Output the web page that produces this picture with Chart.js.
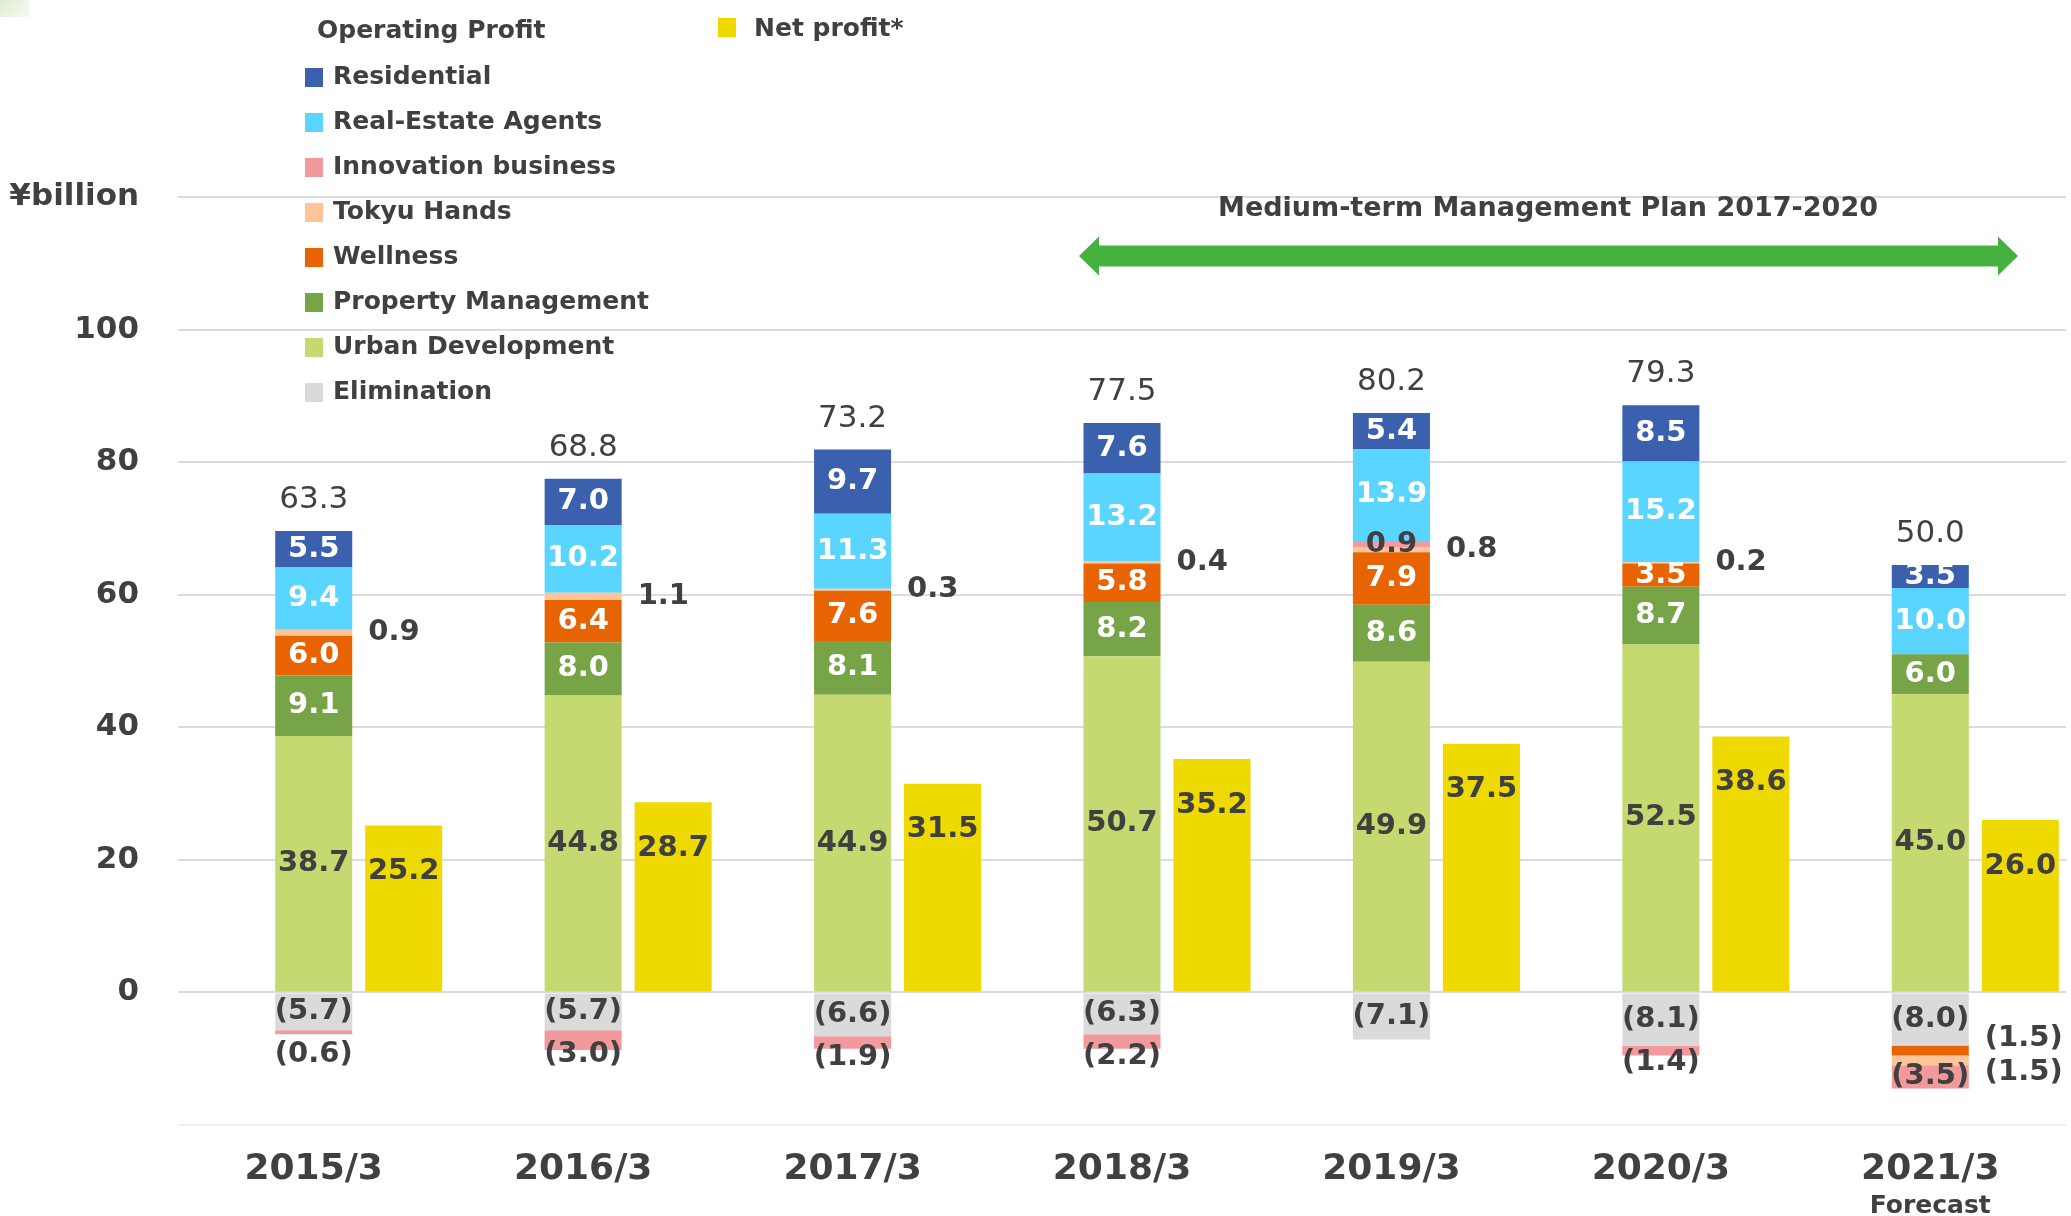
<!DOCTYPE html>
<html>
<head>
<meta charset="utf-8">
<script src="https://cdn.jsdelivr.net/npm/chart.js@4.4.1/dist/chart.umd.min.js"></script>
<style>
  html, body { margin: 0; padding: 0; background: #fff; overflow: hidden; }
  body { width: 2071px; height: 1216px; position: relative; font-family: 'DejaVu Sans', Verdana, sans-serif; color: #404040; }
  #wrap { position: absolute; left: 0; top: 0; width: 2066px; height: 1216px; overflow: hidden; }
  #corner { position: absolute; left: 0; top: 0; width: 29px; height: 17px; background: linear-gradient(135deg, #dcefd2, #f4faf0); }
  .lg-box { position: absolute; width: 18px; height: 19px; }
  .lg-text { position: absolute; font-size: 25px; font-weight: bold; line-height: 1; white-space: nowrap; color: #404040; }
  #plan { left: 1548px; top: 193px; transform: translateX(-50%); font-size: 27px; }
</style>
</head>
<body>
<div id="wrap"><canvas id="chart" width="2110" height="1216"></canvas></div>
<div id="corner"></div>
<div id="legend"></div>
<div id="plan" class="lg-text">Medium-term Management Plan 2017-2020</div>
<script>
// data (¥billion)
const categories = ['2015/3', '2016/3', '2017/3', '2018/3', '2019/3', '2020/3', '2021/3'];
const residential  = [5.5, 7.0, 9.7, 7.6, 5.4, 8.5, 3.5];
const realEstate   = [9.4, 10.2, 11.3, 13.2, 13.9, 15.2, 10.0];
const innovation   = [-0.6, -3.0, -1.9, -2.2, 0.9, -1.4, -3.5];
const tokyuHands   = [0.9, 1.1, 0.3, 0.4, 0.8, 0.2, -1.5];
const wellness     = [6.0, 6.4, 7.6, 5.8, 7.9, 3.5, -1.5];
const propertyMgmt = [9.1, 8.0, 8.1, 8.2, 8.6, 8.7, 6.0];
const urbanDev     = [38.7, 44.8, 44.9, 50.7, 49.9, 52.5, 45.0];
const elimination  = [-5.7, -5.7, -6.6, -6.3, -7.1, -8.1, -8.0];
const netProfit    = [25.2, 28.7, 31.5, 35.2, 37.5, 38.6, 26.0];
const totals       = [63.3, 68.8, 73.2, 77.5, 80.2, 79.3, 50.0];
const yTickValues  = [-20, 0, 20, 40, 60, 80, 100, 120];
const yTickLabels  = ['', '0', '20', '40', '60', '80', '100', '¥billion'];

const DARK = '#404040';
const FONT = '"DejaVu Sans", Verdana, sans-serif';
const whiteSeries = ['Residential', 'Real-Estate Agents', 'Wellness', 'Property Management'];

function bar(label, data, color, stack) {
  return {
    label: label, data: data, backgroundColor: color, stack: stack,
    borderWidth: 0, categoryPercentage: 0.668, barPercentage: 0.856
  };
}

// Elimination first so it sits right under zero in the negative stack
const datasets = [
  bar('Elimination', elimination, '#dbdadb', 'op'),
  bar('Urban Development', urbanDev, '#c4d96f', 'op'),
  bar('Property Management', propertyMgmt, '#76a447', 'op'),
  bar('Wellness', wellness, '#e86403', 'op'),
  bar('Tokyu Hands', tokyuHands, '#ffc497', 'op'),
  bar('Innovation business', innovation, '#f2999b', 'op'),
  bar('Real-Estate Agents', realEstate, '#5ad5ff', 'op'),
  bar('Residential', residential, '#3a60ae', 'op'),
  bar('Net profit*', netProfit, '#eed900', 'net')
];

function fmt(v) {
  return v < 0 ? '(' + Math.abs(v).toFixed(1) + ')' : v.toFixed(1);
}

const labelPlugin = {
  id: 'barLabels',
  afterDatasetsDraw(chart) {
    const ctx = chart.ctx;
    ctx.save();
    ctx.textBaseline = 'middle';
    let lastX = 0;
    for (let i = 0; i < categories.length; i++) {
      const inside = [], below = [], side = [];
      let top = Infinity, stackX = 0, stackRight = 0;
      chart.data.datasets.forEach((ds, d) => {
        const v = ds.data[i];
        if (!v) return;
        const p = chart.getDatasetMeta(d).data[i].getProps(['x', 'y', 'base', 'width'], true);
        const mid = (p.y + p.base) / 2;
        if (ds.stack === 'net') {
          inside.push({ text: fmt(v), x: p.x, y: p.y + 46, color: DARK });
          return;
        }
        stackX = p.x;
        stackRight = p.x + p.width / 2;
        if (v > 0) top = Math.min(top, p.y);
        if (ds.label === 'Tokyu Hands' || (ds.label === 'Wellness' && v < 0)) {
          side.push({ text: fmt(v), y: mid });
        } else if (v < 0) {
          below.push({ text: fmt(v), x: p.x, y: mid });
        } else {
          inside.push({ text: fmt(v), x: p.x, y: mid, color: whiteSeries.includes(ds.label) ? '#fff' : DARK });
        }
      });
      lastX = stackX;

      ctx.font = 'bold 29px ' + FONT;
      ctx.textAlign = 'center';
      inside.forEach(l => { ctx.fillStyle = l.color; ctx.fillText(l.text, l.x, l.y); });

      // negative labels pushed down so they don't sit on top of each other
      ctx.fillStyle = DARK;
      let prev = -Infinity;
      below.forEach(l => {
        const y = Math.max(l.y, prev + 43);
        ctx.fillText(l.text, l.x, y);
        prev = y;
      });

      if (side.length === 2 && Math.abs(side[0].y - side[1].y) < 34) {
        const m = (side[0].y + side[1].y) / 2;
        side[0].y = m - 17;
        side[1].y = m + 17;
      }
      ctx.textAlign = 'left';
      side.forEach(l => ctx.fillText(l.text, stackRight + 16, l.y));

      ctx.textAlign = 'center';
      ctx.font = '31px ' + FONT;
      ctx.fillText(totals[i].toFixed(1), stackX, top - 31);
    }
    ctx.font = 'bold 25px ' + FONT;
    ctx.fillText('Forecast', lastX, 1206);
    ctx.restore();
  }
};

const arrowPlugin = {
  id: 'planArrow',
  afterDraw(chart) {
    const ctx = chart.ctx;
    const x0 = 1079, x1 = 2018, cy = 256, h = 10.5, hh = 19.5, hl = 20;
    ctx.save();
    ctx.fillStyle = '#45b23f';
    ctx.beginPath();
    ctx.moveTo(x0, cy);
    ctx.lineTo(x0 + hl, cy - hh);
    ctx.lineTo(x0 + hl, cy - h);
    ctx.lineTo(x1 - hl, cy - h);
    ctx.lineTo(x1 - hl, cy - hh);
    ctx.lineTo(x1, cy);
    ctx.lineTo(x1 - hl, cy + hh);
    ctx.lineTo(x1 - hl, cy + h);
    ctx.lineTo(x0 + hl, cy + h);
    ctx.lineTo(x0 + hl, cy + hh);
    ctx.closePath();
    ctx.fill();
    ctx.restore();
  }
};

new Chart(document.getElementById('chart'), {
  type: 'bar',
  data: { labels: categories, datasets: datasets },
  options: {
    responsive: false,
    devicePixelRatio: 1,
    animation: false,
    layout: { padding: { top: 197, left: 0, right: 0, bottom: 0 } },
    plugins: { legend: { display: false }, tooltip: { enabled: false } },
    scales: {
      x: {
        stacked: true,
        grid: { display: false },
        border: { display: false },
        afterFit: s => { s.height = 91; },
        ticks: {
          color: DARK,
          font: { family: FONT, size: 36, weight: 'bold' },
          padding: 15,
          labelOffset: -45,
          maxRotation: 0
        }
      },
      y: {
        stacked: true,
        min: -20,
        max: 120,
        border: { display: false },
        afterFit: s => { s.width = 224; },
        afterBuildTicks: s => { s.ticks = yTickValues.map(v => ({ value: v })); },
        grid: {
          color: c => (c.tick && c.tick.value === -20) ? '#f0f0f0' : '#dcdcdc',
          lineWidth: 2,
          tickLength: 46
        },
        ticks: {
          color: DARK,
          font: { family: FONT, size: 31, weight: 'bold' },
          padding: 39,
          callback: (v, idx) => yTickLabels[idx]
        }
      }
    }
  },
  plugins: [labelPlugin, arrowPlugin]
});

// legend, built from the dataset colours
const legendOrder = ['Residential', 'Real-Estate Agents', 'Innovation business', 'Tokyu Hands',
  'Wellness', 'Property Management', 'Urban Development', 'Elimination'];
const legend = document.getElementById('legend');
function addItem(name, color, boxX, boxY, textX, baseline) {
  const b = document.createElement('div');
  b.className = 'lg-box';
  b.style.left = boxX + 'px';
  b.style.top = boxY + 'px';
  b.style.background = color;
  legend.appendChild(b);
  const t = document.createElement('div');
  t.className = 'lg-text';
  t.style.left = textX + 'px';
  t.style.top = (baseline - 21) + 'px';
  t.textContent = name;
  legend.appendChild(t);
}
const head = document.createElement('div');
head.className = 'lg-text';
head.style.left = '317px';
head.style.top = (38 - 21) + 'px';
head.textContent = 'Operating Profit';
legend.appendChild(head);
legendOrder.forEach((name, k) => {
  const ds = datasets.find(d => d.label === name);
  const cy = 77 + k * 45;
  addItem(name, ds.backgroundColor, 305, cy - 9, 333, cy + 7);
});
addItem('Net profit*', datasets[8].backgroundColor, 718, 18, 754, 36);
</script>
</body>
</html>
